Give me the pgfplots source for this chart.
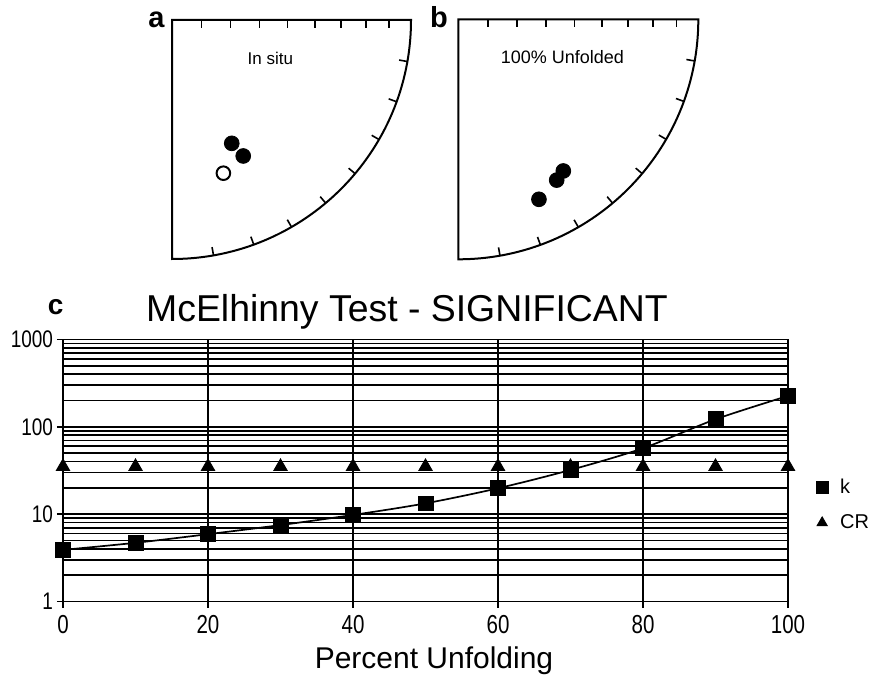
\documentclass[border=0pt]{standalone}
\usepackage{fontspec}
\setmainfont{Liberation Sans}
\newfontfamily\condensed[FakeStretch=0.79]{Liberation Sans}
\usepackage{pgfplots}
\usepackage{pgfplotstable}
\pgfplotsset{compat=1.18}

\pgfplotstableread{
x k
0 3.9
10 4.7
20 5.9
30 7.5
40 9.8
50 13.3
60 19.8
70 32.1
80 56.9
90 122
100 226
}\kdata
\pgfplotstableread{
x cr
0 35
10 35
20 35
30 35
40 35
50 35
60 35
70 35
80 35
90 35
100 35
}\crdata
% stereonet points, equal-area projection coordinates (radius = 1)
\pgfplotstableread{
x y
0.250 -0.516
0.298 -0.569
}\situfilled
\pgfplotstableread{
x y
0.215 -0.641
}\situopen
\pgfplotstableread{
x y
0.4375 -0.632
0.410 -0.670
0.336 -0.750
}\unfolded

\begin{document}
\begin{tikzpicture}[x=1pt,y=1pt]
\useasboundingbox (0,0) rectangle (436,-339);

% ---------- stereonet frames ----------
\foreach \cx/\cy/\R in {86/-10/119.5, 229.15/-9.65/120}{
 \begin{scope}[shift={(\cx,\cy)}]
  \draw[line width=1pt, line join=miter] (0,0) -- (0,-\R) arc[start angle=-90,end angle=0,radius=\R] -- cycle;
  \foreach \t in {10,20,...,80}{
    \draw[line width=0.8pt] ({\R*sqrt(2)*sin(\t/2)},0) -- ++(0,-3.8);
  }
  \foreach \a in {-10,-20,...,-80}{
    \draw[line width=0.8pt] ({\R*cos(\a)},{\R*sin(\a)}) -- ({(\R-4.2)*cos(\a)},{(\R-4.2)*sin(\a)});
  }
 \end{scope}
}

% panel a points
\begin{axis}[at={(86pt,-10pt)}, anchor=north west, x=119.5pt, y=119.5pt,
  xmin=0, xmax=1, ymin=-1, ymax=0, hide axis, clip=false]
\addplot[only marks, mark=*, mark size=3.7pt, mark options={fill=black, draw=black}] table {\situfilled};
\addplot[only marks, mark=o, mark size=3.4pt, mark options={draw=black, line width=1pt, fill=white}] table {\situopen};
\end{axis}

% panel b points
\begin{axis}[at={(229.15pt,-9.65pt)}, anchor=north west, x=120pt, y=120pt,
  xmin=0, xmax=1, ymin=-1, ymax=0, hide axis, clip=false]
\addplot[only marks, mark=*, mark size=3.7pt, mark options={fill=black, draw=black}] table {\unfolded};
\end{axis}

\node[font=\fontsize{14.5}{16}\selectfont\bfseries, anchor=base] at (78.2,-14) {a};
\node[font=\fontsize{14.5}{16}\selectfont\bfseries, anchor=base] at (219.5,-14) {b};
\node[font=\fontsize{8.5}{10}\selectfont, anchor=base] at (135.2,-32.2) {In situ};
\node[font=\fontsize{9}{10}\selectfont, anchor=base] at (281.2,-31.7) {100\% Unfolded};

% ---------- panel c ----------
\node[font=\fontsize{14}{16}\selectfont\bfseries, anchor=base] at (27.8,-157.5) {c};
\node[font=\fontsize{18.7}{20}\selectfont, anchor=base] at (203.5,-161) {McElhinny Test - SIGNIFICANT};

\begin{axis}[at={(31.5pt,-300.75pt)}, anchor=south west,
  width=362.5pt, height=131pt, scale only axis,
  ymode=log, xmin=0, xmax=100, ymin=1, ymax=1000,
  xtick={0,20,40,60,80,100}, xticklabels={0,20,40,60,80,100},
  ytick={1,10,100,1000}, yticklabels={1,10,100,1000},
  minor ytick={2,3,4,5,6,7,8,9,20,30,40,50,60,70,80,90,200,300,400,500,600,700,800,900},
  /pgf/number format/assume math mode=true,
  xmajorgrids=true, ymajorgrids=true, yminorgrids=true,
  major grid style={black, line width=0.85pt},
  minor grid style={black, line width=0.85pt},
  axis line style={black, line width=0.85pt},
  tick align=outside, tick pos=left,
  major tick length=3pt, minor tick length=0pt,
  tick style={black, line width=0.85pt},
  xticklabel style={font=\condensed\fontsize{13}{14}\selectfont, yshift=-0.5pt},
  yticklabel style={font=\condensed\fontsize{12}{13}\selectfont, xshift=1.5pt},
  legend style={draw=none, fill=none, at={(1.03,0.368)}, anchor=west,
    font=\fontsize{10}{11}\selectfont, row sep=5pt,
    /tikz/every odd column/.append style={column sep=4pt}},
  legend image post style={mark size=3pt},
  legend cell align=left,
  clip=false]
\addplot[black, line width=0.85pt, smooth, forget plot] table[x=x, y=k] {\kdata};
\addplot[only marks, mark=square*, mark size=3.7pt, mark options={fill=black, draw=black}] table[x=x, y=k] {\kdata};
\addlegendentry{k}
\addplot[only marks, mark=triangle*, mark size=3.9pt, mark options={fill=black, draw=black}] table[x=x, y=cr] {\crdata};
\addlegendentry{CR}
\end{axis}

\node[font=\fontsize{15}{17}\selectfont, anchor=base] at (217,-334) {Percent Unfolding};
\end{tikzpicture}
\end{document}
